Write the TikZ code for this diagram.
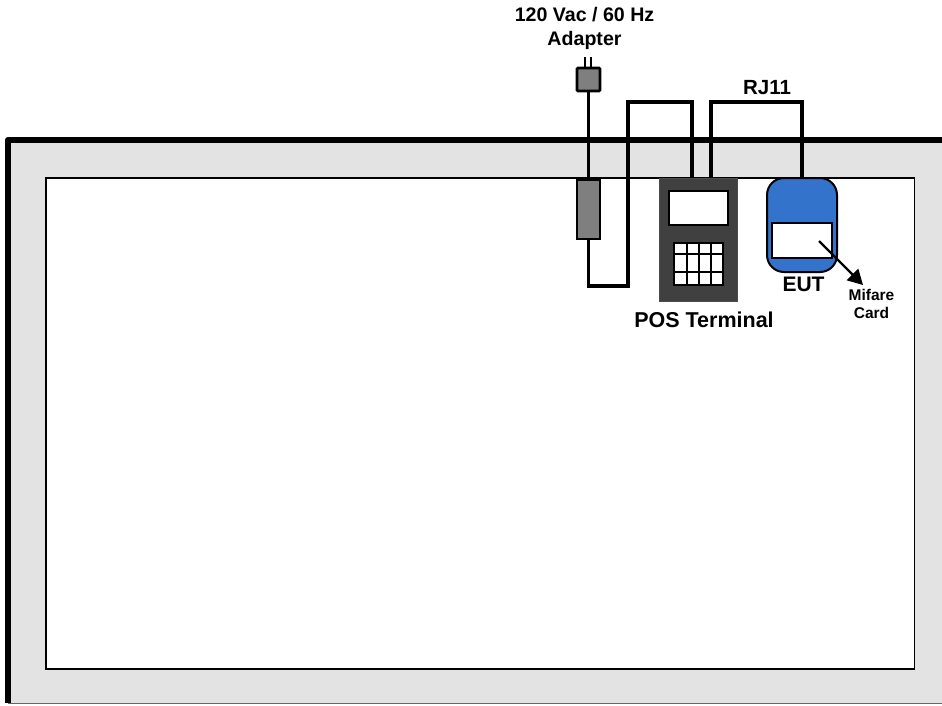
\documentclass[tikz,border=0pt]{standalone}
\usepackage{fontspec}
\setmainfont{Liberation Sans}
\usepackage{xcolor}
\usetikzlibrary{arrows.meta,positioning}
\definecolor{wall}{HTML}{E3E3E3}
\definecolor{brick}{HTML}{7F7F7F}
\definecolor{terminal}{HTML}{404040}
\definecolor{eut}{HTML}{3373CC}

\begin{document}
\begin{tikzpicture}[x=1pt,y=-1pt,every node/.style={font=\bfseries,inner sep=0pt,outer sep=0pt},
    box/.style={draw=black,line width=2.6pt,anchor=north west,align=center},
    cable/.style={line width=3.4pt,line join=miter}]
    \useasboundingbox (0,0) rectangle (942,705);
    \node[anchor=north west,draw=black!60,line width=.8pt,fill=wall,minimum width=936pt,minimum height=563pt] (room) at (8,140) {};
    \draw[line width=6pt,line join=round] (room.south west) -- (room.north west) -- (room.north east);
    \node[box,line width=1.8pt,fill=white,minimum width=868.5pt,minimum height=491pt] (table) at (46,178) {};

    \node[box,line width=2.8pt,fill=brick,minimum width=23pt,minimum height=23pt,rounded corners=1pt] (plug) at (577,68) {};
    \node[box,line width=2.8pt,fill=brick,minimum width=23pt,minimum height=59pt] (adapter) at (577,180) {};
    \node[anchor=north west,draw=black!70,line width=.5pt,fill=terminal,minimum width=78pt,minimum height=123pt] (pos) at (659,178) {};
    \node[box,fill=white,minimum width=59pt,minimum height=34pt] (screen) at (669,191) {};
    \node[box,line width=2.2pt,fill=white,minimum width=49pt,minimum height=42pt] (keys) at (674,243) {};
    \node[box,line width=2pt,fill=eut,rounded corners=17pt,minimum width=70pt,minimum height=94pt] (eut) at (767,178) {};
    \node[box,fill=white,minimum width=60pt,minimum height=35pt] (card) at (772,223) {};

    \foreach \x in {687,699,711} \draw[line width=2pt] (\x,243) -- (\x,285);
    \foreach \y in {254,272} \draw[line width=2pt] (674,\y) -- (723,\y);

    % prongs
    \foreach \x in {585,591} \draw[line width=2.4pt] (\x,57) -- (\x,68);

    \coordinate (p1) at (588.5,286);
    \coordinate (p2) at (628,286);
    \coordinate (p3) at (628,102);
    \coordinate (p4) at (692,102);
    \coordinate (p5) at (692,178);
    \coordinate (r1) at (711,178);
    \coordinate (r2) at (711,102);
    \coordinate (r3) at (802,102);
    \coordinate (r4) at (802,178);
    \draw[cable] (plug.south) -- (adapter.north);
    \draw[cable] (adapter.south) -- (p1) -- (p2) -- (p3) -- (p4) -- (p5);
    \draw[cable] (r1) -- (r2) -- (r3) -- (r4);

    \node[font=\bfseries\fontsize{19.6}{24}\selectfont,align=center] (power) at (584.5,28) {120 Vac / 60 Hz\\Adapter};
    \node[font=\bfseries\fontsize{20.5}{20}\selectfont] (rj11) at (767,88) {RJ11};
    \node[font=\bfseries\fontsize{21.5}{21}\selectfont] (poslabel) at (704,320) {POS Terminal};
    \node[font=\bfseries\fontsize{21}{21}\selectfont] (eutlabel) at (803.5,284) {EUT};
    \node[font=\bfseries\fontsize{15.5}{18}\selectfont,align=center] (mifare) at (871.5,304) {Mifare\\Card};

    \coordinate (c1) at (819,241);
    \draw[line width=2.2pt,-{Triangle[length=15pt,width=16pt]}] (c1) -- (863,285);
\end{tikzpicture}
\end{document}
